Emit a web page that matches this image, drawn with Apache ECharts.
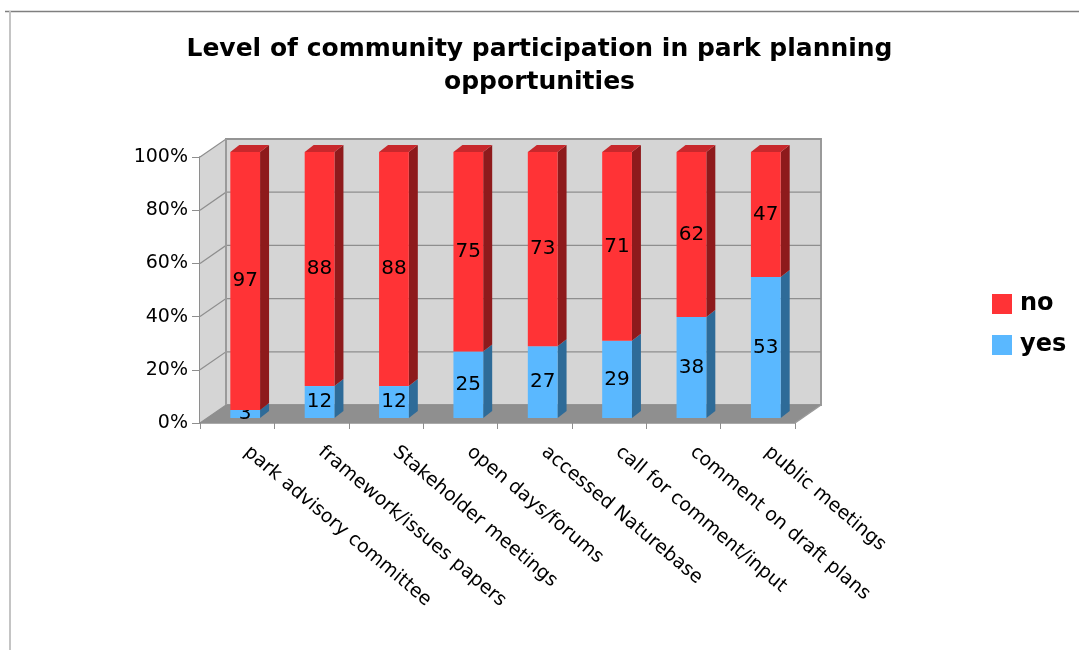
<!DOCTYPE html>
<html>
<head>
<meta charset="utf-8">
<title>Level of community participation in park planning opportunities</title>
<script src="https://cdn.jsdelivr.net/npm/echarts@6/dist/echarts.min.js"></script>
<style>
  html, body { margin: 0; padding: 0; background: #ffffff; }
  #chart { width: 1079px; height: 650px; }
</style>
</head>
<body>
<div id="chart"></div>
<script>
// Survey answers per planning opportunity (percent of respondents)
const categories = [
  'park advisory committee',
  'framework/issues papers',
  'Stakeholder meetings',
  'open days/forums',
  'accessed Naturebase',
  'call for comment/input',
  'comment on draft plans',
  'public meetings'
];
const yesValues = [3, 12, 12, 25, 27, 29, 38, 53];
const noValues  = [97, 88, 88, 75, 73, 71, 62, 47];
const yTicks    = [0, 20, 40, 60, 80, 100];

// Pseudo-3D geometry (pixels)
const WALL_DEPTH = [26, -18];   // offset of the back wall from the front plane
const BAR_SHIFT  = [8, -5];     // bar front face sits a little behind the front plane
const BAR_DEPTH  = [9, -7];     // thickness of each bar
const BAR_RATIO  = 0.4;         // bar width as a share of the category band

const FONT = '"DejaVu Sans", Verdana, sans-serif';

const chart = echarts.init(document.getElementById('chart'), null, { renderer: 'canvas' });

// Back wall, side wall, floor and gridlines
function renderWalls(params, api) {
  const cs = params.coordSys;
  const x0 = cs.x, x1 = cs.x + cs.width;
  const yTop = api.coord([0, 100])[1];
  const yBot = api.coord([0, 0])[1];
  const dx = WALL_DEPTH[0], dy = WALL_DEPTH[1];
  const wallFill = '#d5d5d5', edge = '#8e8e8e';
  const children = [
    { type: 'polygon', shape: { points: [[x0 + dx, yTop + dy], [x1 + dx, yTop + dy], [x1 + dx, yBot + dy], [x0 + dx, yBot + dy]] },
      style: { fill: wallFill, stroke: '#9a9a9a', lineWidth: 2 } },
    { type: 'polygon', shape: { points: [[x0, yTop], [x0 + dx, yTop + dy], [x0 + dx, yBot + dy], [x0, yBot]] },
      style: { fill: wallFill, stroke: null } },
    { type: 'polygon', shape: { points: [[x0, yBot], [x1, yBot], [x1 + dx, yBot + dy], [x0 + dx, yBot + dy]] },
      style: { fill: '#8f8f8f', stroke: null } }
  ];
  yTicks.forEach(function (v) {
    const y = api.coord([0, v])[1];
    children.push({ type: 'polyline', shape: { points: [[x0, y], [x0 + dx, y + dy], [x1 + dx, y + dy]] },
      style: { stroke: edge, lineWidth: 1.2, fill: null } });
  });
  children.push({ type: 'line', shape: { x1: x0 + dx, y1: yTop + dy, x2: x0 + dx, y2: yBot + dy },
    style: { stroke: '#9a9a9a', lineWidth: 2 } });
  children.push({ type: 'line', shape: { x1: x1, y1: yBot, x2: x1 + dx, y2: yBot + dy },
    style: { stroke: '#9a9a9a', lineWidth: 1.5 } });
  return { type: 'group', children: children };
}

// One stacked segment of a 3D bar
function makeBarRenderer(front, side, top, drawTop) {
  return function (params, api) {
    const i = api.value(0), lo = api.value(1), hi = api.value(2), v = api.value(3);
    const pLo = api.coord([i, lo]);
    const pHi = api.coord([i, hi]);
    const band = api.size([1, 0])[0];
    const w = band * BAR_RATIO;
    const fx = pLo[0] - w / 2 + BAR_SHIFT[0];
    const yb = pLo[1] + BAR_SHIFT[1];
    const yt = pHi[1] + BAR_SHIFT[1];
    const dx = BAR_DEPTH[0], dy = BAR_DEPTH[1];
    const children = [
      { type: 'polygon', shape: { points: [[fx + w, yb], [fx + w + dx, yb + dy], [fx + w + dx, yt + dy], [fx + w, yt]] },
        style: { fill: side } },
      { type: 'rect', shape: { x: fx, y: yt, width: w, height: yb - yt }, style: { fill: front } }
    ];
    if (drawTop) {
      children.push({ type: 'polygon', shape: { points: [[fx, yt], [fx + dx, yt + dy], [fx + w + dx, yt + dy], [fx + w, yt]] },
        style: { fill: top } });
    }
    children.push({ type: 'text', style: { text: String(v), x: fx + w / 2, y: (yb + yt) / 2,
      align: 'center', verticalAlign: 'middle', fill: '#000000', font: '20px ' + FONT } });
    return { type: 'group', children: children };
  };
}

const yesData = categories.map(function (c, i) { return [i, 0, yesValues[i], yesValues[i]]; });
const noData  = categories.map(function (c, i) { return [i, yesValues[i], yesValues[i] + noValues[i], noValues[i]]; });

chart.setOption({
  animation: false,
  backgroundColor: '#ffffff',
  title: {
    text: 'Level of community participation in park planning\nopportunities',
    left: 'center',
    top: 28,
    textStyle: { fontFamily: FONT, fontWeight: 'bold', fontSize: 25, lineHeight: 33, color: '#000000' }
  },
  legend: {
    orient: 'vertical',
    left: 987,
    top: 287,
    itemWidth: 20,
    itemHeight: 20,
    itemGap: 17,
    icon: 'rect',
    data: ['no', 'yes'],
    textStyle: { fontFamily: FONT, fontWeight: 'bold', fontSize: 24, color: '#000000', padding: [0, 0, 0, 3] }
  },
  graphic: [
    { type: 'line', shape: { x1: 5, y1: 11.5, x2: 1079, y2: 11.5 }, style: { stroke: '#7f7f7f', lineWidth: 1.5 }, z: 100 },
    { type: 'line', shape: { x1: 10, y1: 11, x2: 10, y2: 650 }, style: { stroke: '#c4c4c4', lineWidth: 2 }, z: 100 }
  ],
  grid: { left: 200, right: 284, top: 157, bottom: 227, containLabel: false },
  xAxis: {
    type: 'category',
    data: categories,
    boundaryGap: true,
    axisLine: { show: true, lineStyle: { color: '#8e8e8e', width: 1.5 } },
    axisTick: { show: true, length: 6, lineStyle: { color: '#8e8e8e' } },
    axisLabel: { rotate: -40, margin: 19, padding: [0, 0, 0, 12], fontFamily: FONT, fontSize: 19, color: '#000000', interval: 0 },
    splitLine: { show: false }
  },
  yAxis: {
    type: 'value',
    min: 0,
    max: 100,
    interval: 20,
    axisLine: { show: true, lineStyle: { color: '#8e8e8e', width: 2 } },
    axisTick: { show: true, length: 8, lineStyle: { color: '#8e8e8e' } },
    axisLabel: { formatter: '{value}%', margin: 12, fontFamily: FONT, fontSize: 19, color: '#000000' },
    splitLine: { show: false }
  },
  series: [
    {
      name: 'walls', type: 'custom', silent: true, z: 1,
      renderItem: renderWalls, data: [[0, 0]], encode: { x: 0, y: 1 }
    },
    {
      name: 'yes', type: 'custom', z: 3,
      itemStyle: { color: '#5ab8ff' },
      renderItem: makeBarRenderer('#5ab8ff', '#2e6b98', '#4a9fe0', false),
      data: yesData, encode: { x: 0, y: [1, 2] }
    },
    {
      name: 'no', type: 'custom', z: 3,
      itemStyle: { color: '#ff3336' },
      renderItem: makeBarRenderer('#ff3336', '#8e1a1c', '#c8282c', true),
      data: noData, encode: { x: 0, y: [1, 2] }
    }
  ]
});
</script>
</body>
</html>
